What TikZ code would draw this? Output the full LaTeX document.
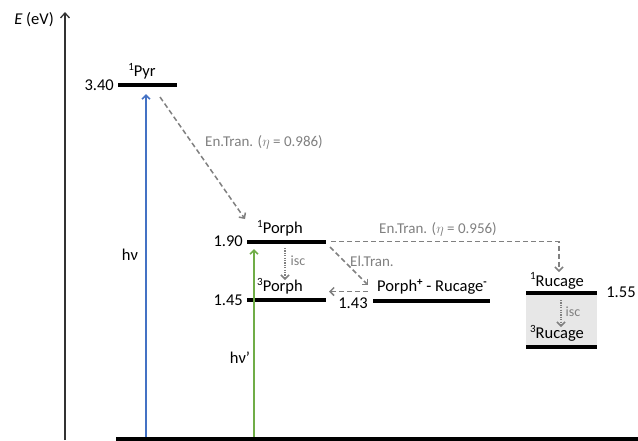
\documentclass[tikz,border=0pt]{standalone}
\usepackage{fontspec}
\setmainfont{Carlito}
\usetikzlibrary{arrows.meta}
\definecolor{ablue}{HTML}{4472C4}
\definecolor{agreen}{HTML}{70AD47}
\definecolor{agray}{HTML}{808080}
\definecolor{boxgray}{HTML}{E7E7E7}
\begin{document}
\begin{tikzpicture}[x=1pt,y=-1pt,
  lvl/.style={line width=4pt},
  lbl/.style={font=\fontsize{16.5}{19}\selectfont, inner sep=0pt},
  glbl/.style={font=\fontsize{15}{17}\selectfont, text=agray, inner sep=0pt},
  slbl/.style={font=\fontsize{14}{16}\selectfont, text=agray, inner sep=0pt},
  dasharr/.style={agray, line width=1.5pt, dash pattern=on 5pt off 3pt, -{Straight Barb[length=4pt,width=8pt,line width=1.5pt]}},
  dotarr/.style={agray, line width=1.5pt, dash pattern=on 1.2pt off 1.2pt, -{Straight Barb[length=4pt,width=8pt,line width=1.5pt]}},
  photon/.style={line width=1.6pt, -{Straight Barb[length=4pt,width=8pt]}},
  axis/.style={line width=1.3pt, black!80, -{Straight Barb[length=5pt,width=9pt]}}
]
\useasboundingbox (0,0) rectangle (638,440);
% axis
\coordinate (axb) at (65,440);
\coordinate (axt) at (65,12);
\draw[axis] (axb) -- (axt);
\node[lbl, anchor=east] (Elab) at (54,20) {\textit{E} (eV)};
% ground
\coordinate (g1) at (116,438.5);
\coordinate (g2) at (638,438.5);
\draw[lvl] (g1) -- (g2);
% Rucage box
\fill[boxgray] (526,293) rectangle (597,347);
% levels
\coordinate (pyrL) at (118,85); \coordinate (pyrR) at (177,85);
\draw[lvl] (pyrL) -- (pyrR);
\coordinate (p1L) at (247,241.5); \coordinate (p1R) at (326,241.5);
\draw[lvl] (p1L) -- (p1R);
\coordinate (p3L) at (247,300); \coordinate (p3R) at (326,300);
\draw[lvl] (p3L) -- (p3R);
\coordinate (ctL) at (373,300.5); \coordinate (ctR) at (490,300.5);
\draw[lvl] (ctL) -- (ctR);
\coordinate (r1L) at (526,293); \coordinate (r1R) at (597,293);
\draw[lvl] (r1L) -- (r1R);
\coordinate (r3L) at (526,347); \coordinate (r3R) at (597,347);
\draw[lvl] (r3L) -- (r3R);
% labels
\newcommand{\sps}[1]{\raisebox{0.38em}{\fontsize{11}{12}\selectfont #1}}
\node[lbl, anchor=east] (v340) at (114,85) {3.40};
\node[lbl] (pyr) at (142,71) {\sps{1}Pyr};
\node[lbl, anchor=east] (v190) at (243,241.5) {1.90};
\node[lbl] (porph1) at (280,228) {\sps{1}Porph};
\node[lbl, anchor=east] (v145) at (243,300) {1.45};
\node[lbl] (porph3) at (280,286) {\sps{3}Porph};
\node[lbl] (v143) at (353,303) {1.43};
\node[lbl] (ct) at (432,287) {Porph\sps{\textbf{+}} - Rucage\sps{\textbf{-}}};
\node[lbl] (ruc1) at (557,281) {\sps{1}Rucage};
\node[lbl] (v155) at (621,292) {1.55};
\node[lbl] (ruc3) at (557,333) {\sps{3}Rucage};
\node[lbl] (hv) at (130,255) {hν};
\node[lbl] (hv2) at (240,358) {hν’};
% photons
\coordinate (bb) at (146,437); \coordinate (bt) at (146,94);
\draw[photon, ablue] (bb) -- (bt);
\coordinate (gb) at (254,437); \coordinate (gt) at (254,249);
\draw[photon, agreen] (gb) -- (gt);
% transfers
\coordinate (et1s) at (160,97); \coordinate (et1e) at (245,219);
\draw[dasharr] (et1s) -- (et1e);
\node[glbl] (et1) at (264,142) {En.Tran. ($\eta$ = 0.986)};
\coordinate (iscS) at (285,248); \coordinate (iscE) at (285,280);
\draw[dotarr] (iscS) -- (iscE);
\node[slbl] (isc1) at (298,261) {isc};
\coordinate (elS) at (330,247); \coordinate (elE) at (368,285);
\draw[dasharr] (elS) -- (elE);
\node[glbl] (elt) at (372,261) {El.Tran.};
\coordinate (bkS) at (368,291.5); \coordinate (bkE) at (329,291.5);
\draw[dasharr] (bkS) -- (bkE);
\coordinate (et2s) at (331,241.5); \coordinate (et2c) at (559,241.5); \coordinate (et2e) at (559,272);
\draw[dasharr] (et2s) -- (et2c) -- (et2e);
\node[glbl] (et2) at (438,229) {En.Tran. ($\eta$ = 0.956)};
\coordinate (isc2S) at (561,300); \coordinate (isc2E) at (561,327);
\draw[dotarr] (isc2S) -- (isc2E);
\node[slbl] (isc2) at (573,312) {isc};
\end{tikzpicture}
\end{document}
